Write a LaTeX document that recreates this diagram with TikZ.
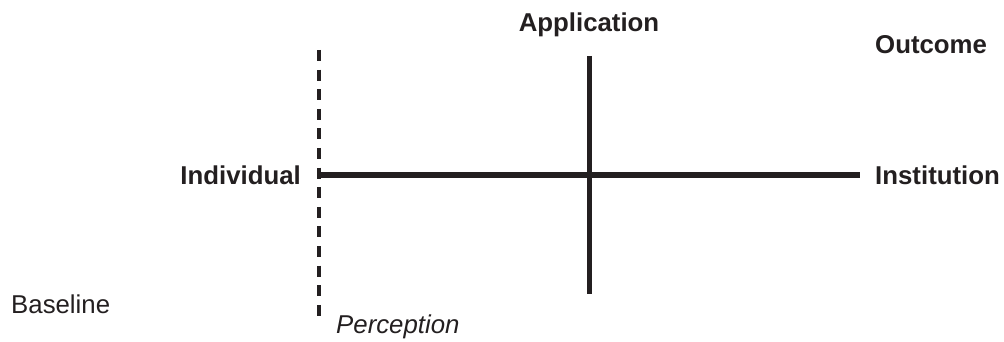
\documentclass[tikz,border=0pt]{standalone}
\usepackage{fontspec}
\setmainfont{Liberation Sans}
\begin{document}
\begin{tikzpicture}[x=1pt,y=-1pt,
  axis/.style={draw={rgb,255:red,35;green,31;blue,32}, line width=5.5pt},
  dashaxis/.style={draw={rgb,255:red,35;green,31;blue,32}, line width=4.5pt, dash pattern=on 11pt off 8.6pt},
  lab/.style={text={rgb,255:red,35;green,31;blue,32}, inner sep=0pt, font=\fontsize{25.8}{30}\selectfont\bfseries},
  plain/.style={text={rgb,255:red,35;green,31;blue,32}, inner sep=0pt, font=\fontsize{25.8}{30}\selectfont}]
\useasboundingbox (0,0) rectangle (1004,342);
\coordinate (dtop) at (319,50);
\coordinate (dbot) at (319,321);
\coordinate (hl) at (319,175);
\coordinate (hr) at (860,175);
\coordinate (vt) at (589.5,56);
\coordinate (vb) at (589.5,294);
\draw[dashaxis] (dtop) -- (dbot);
\draw[axis] (hl) -- (hr);
\draw[axis] (vt) -- (vb);
\node[lab, anchor=base] (app) at (589,32) {Application};
\node[lab, anchor=base west] (out) at (875,54) {Outcome};
\node[lab, anchor=base east] (ind) at (301,184) {Individual};
\node[lab, anchor=base west] (inst) at (875,184) {Institution};
\node[plain, anchor=base west] (base) at (11,313) {Baseline};
\node[plain, anchor=base west, font=\fontsize{25.8}{30}\selectfont\itshape] (perc) at (336,333) {Perception};
\end{tikzpicture}
\end{document}
